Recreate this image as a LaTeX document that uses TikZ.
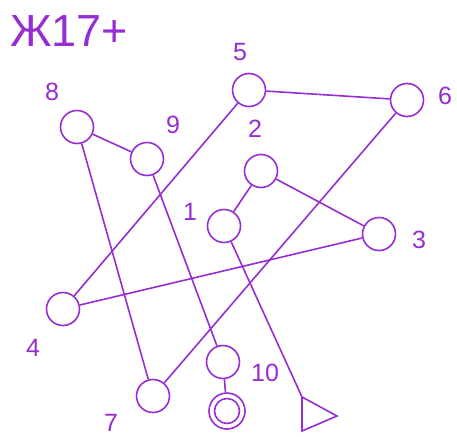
\documentclass[tikz,border=0pt]{standalone}
\usepackage{fontspec}
\setmainfont{Liberation Sans}
\definecolor{pp}{RGB}{150,45,210}
\begin{document}
\begin{tikzpicture}[x=1pt,y=-1pt,
  v/.style={circle,draw=pp,line width=1.6pt,minimum size=33pt,inner sep=0pt},
  lab/.style={text=pp,font=\fontsize{25}{25}\selectfont,inner sep=0pt},
  e/.style={draw=pp,line width=1.6pt}]
\path[use as bounding box] (0,0) rectangle (457,436);
\node[text=pp,font=\fontsize{45}{45}\selectfont,inner sep=0pt] (title) at (69,31) {Ж17+};
\node[v] (n5) at (249,90) {};
\node[v] (n6) at (407,100) {};
\node[v] (n8) at (77,127) {};
\node[v] (n9) at (147,159) {};
\node[v] (n2) at (261,171) {};
\node[v] (n1) at (224,226) {};
\node[v] (n3) at (379,234) {};
\node[v] (n4) at (63,309) {};
\node[v] (n10) at (223,362) {};
\node[v] (n7) at (153,396) {};
\node[circle,draw=pp,line width=1.6pt,minimum size=36pt,inner sep=0pt] (fin) at (227,411) {};
\node[circle,draw=pp,line width=1.6pt,minimum size=25pt,inner sep=0pt] (fini) at (227,411) {};
\coordinate (t1) at (302,397);
\coordinate (t2) at (302,431);
\coordinate (t3) at (337,416);
\draw[e,line join=miter] (t1) -- (t2) -- (t3) -- cycle;
\node[lab] (l5) at (240,52) {5};
\node[lab] (l6) at (445,96) {6};
\node[lab] (l8) at (52,92) {8};
\node[lab] (l9) at (173,125) {9};
\node[lab] (l2) at (255,129) {2};
\node[lab] (l1) at (190,212) {1};
\node[lab] (l3) at (419,240) {3};
\node[lab] (l4) at (33,348) {4};
\node[lab] (l10) at (265,373) {10};
\node[lab] (l7) at (111,423) {7};
\draw[e] (n5) -- (n6);
\draw[e] (n5) -- (n4);
\draw[e] (n6) -- (n7);
\draw[e] (n8) -- (n9);
\draw[e] (n8) -- (n7);
\draw[e] (n9) -- (n10);
\draw[e] (n2) -- (n1);
\draw[e] (n2) -- (n3);
\draw[e] (n3) -- (n4);
\draw[e] (n1) -- (t1);
\draw[e] (n10) -- (fin);
\end{tikzpicture}
\end{document}
